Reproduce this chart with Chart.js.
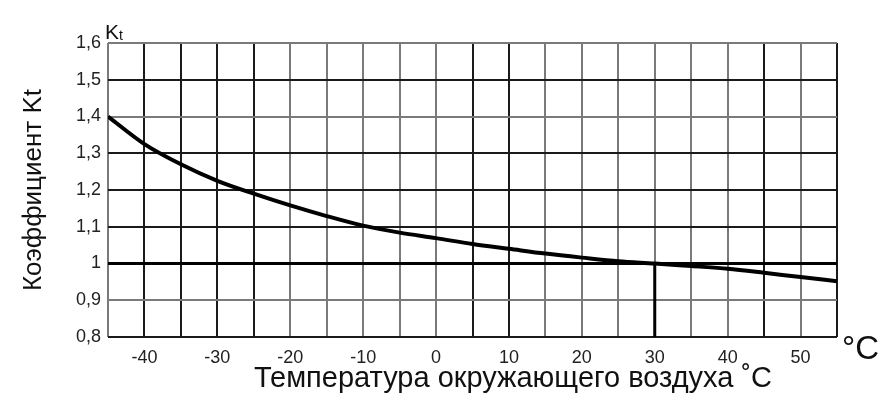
<!DOCTYPE html>
<html>
<head>
<meta charset="utf-8">
<script src="https://cdn.jsdelivr.net/npm/chart.js@4/dist/chart.umd.min.js"></script>
<style>
  html, body { margin: 0; padding: 0; background: #fff; }
  #wrap { width: 895px; height: 407px; }
</style>
</head>
<body>
<div id="wrap"><canvas id="c" width="895" height="407"></canvas></div>
<script>
// ---- Data ----
const temperatures = [-45, -40, -35, -30, -25, -20, -15, -10, -5, 0, 5, 10, 15, 20, 25, 30, 35, 40, 45, 50, 55];
const ktValues     = [1.40, 1.325, 1.270, 1.225, 1.190, 1.158, 1.129, 1.103, 1.084, 1.069, 1.053, 1.040, 1.027, 1.016, 1.006, 1.000, 0.993, 0.986, 0.975, 0.963, 0.952];
const referenceTemp = 30;
const referenceK = 1;
const xMin = -45, xMax = 55, xStep = 5, xLabelStep = 10;
const yMin = 0.8, yMax = 1.6, yStep = 0.1;
const xTitle = 'Температура окружающего воздуха ˚C';
const yTitle = 'Коэффициент Kt';
const yUnit = 'K';
const yUnitSub = 't';
const xUnit = '°C';

const FONT = "'Liberation Sans', Arial, sans-serif";
const darkX = [-40, -35, -30, -25, 5, 10, 45, 55];
const darkY = [0.8, 1.1, 1.2, 1.3, 1.5];

const curve = temperatures.map((t, i) => ({ x: t, y: ktValues[i] }));
const hLine = [{ x: xMin, y: referenceK }, { x: xMax, y: referenceK }];
const vLine = [{ x: referenceTemp, y: yMin }, { x: referenceTemp, y: referenceK }];

const extraText = {
  id: 'extraText',
  afterDraw(chart) {
    const ctx = chart.ctx, a = chart.chartArea;
    ctx.save();
    ctx.fillStyle = '#111';
    ctx.textBaseline = 'alphabetic';
    ctx.textAlign = 'left';
    ctx.font = '21px ' + FONT;
    ctx.fillText(yUnit, a.left - 3, a.top - 4);
    const kw = ctx.measureText(yUnit).width;
    ctx.font = '14px ' + FONT;
    ctx.fillText(yUnitSub, a.left - 3 + kw, a.top - 3);
    ctx.font = '33px ' + FONT;
    ctx.fillText(xUnit, a.right + 5, a.bottom + 22);
    ctx.font = '29px ' + FONT;
    ctx.textAlign = 'center';
    ctx.fillText(xTitle, 513, 387);
    ctx.restore();
  }
};

new Chart(document.getElementById('c'), {
  type: 'line',
  data: {
    datasets: [
      { data: hLine, borderColor: '#000', borderWidth: 3, pointRadius: 0, tension: 0 },
      { data: vLine, borderColor: '#000', borderWidth: 3, pointRadius: 0, tension: 0 },
      { data: curve, borderColor: '#000', borderWidth: 4, pointRadius: 0, cubicInterpolationMode: 'monotone' }
    ]
  },
  options: {
    responsive: false,
    animation: false,
    layout: { padding: { left: 0, right: 58, top: 43, bottom: 0 } },
    plugins: { legend: { display: false }, tooltip: { enabled: false } },
    scales: {
      x: {
        type: 'linear',
        min: xMin, max: xMax,
        afterFit(s) { s.height = 70; },
        border: { display: false },
        grid: {
          drawTicks: false,
          color: (c) => darkX.includes(Math.round(c.tick.value)) ? '#1a1a1a' : '#7a7a7a',
          lineWidth: 2
        },
        ticks: {
          stepSize: xStep, autoSkip: false, maxRotation: 0, padding: 10,
          color: '#222', font: { family: FONT, size: 18 },
          callback: (v) => (Math.round(v) % xLabelStep === 0 ? String(Math.round(v)) : '')
        },
        title: { display: false }
      },
      y: {
        type: 'linear',
        min: yMin, max: yMax,
        afterFit(s) { s.width = 108; },
        border: { display: false },
        grid: {
          drawTicks: false,
          color: (c) => darkY.some(d => Math.abs(d - c.tick.value) < 1e-6) ? '#1a1a1a' : '#7a7a7a',
          lineWidth: 2
        },
        ticks: {
          stepSize: yStep, padding: 7,
          color: '#222', font: { family: FONT, size: 18 },
          callback: (v) => String(Math.round(v * 10) / 10).replace('.', ',')
        },
        title: {
          display: true, text: yTitle, color: '#111',
          font: { family: FONT, size: 26 }, padding: { top: 18, bottom: 0 }
        }
      }
    }
  },
  plugins: [extraText]
});
</script>
</body>
</html>
